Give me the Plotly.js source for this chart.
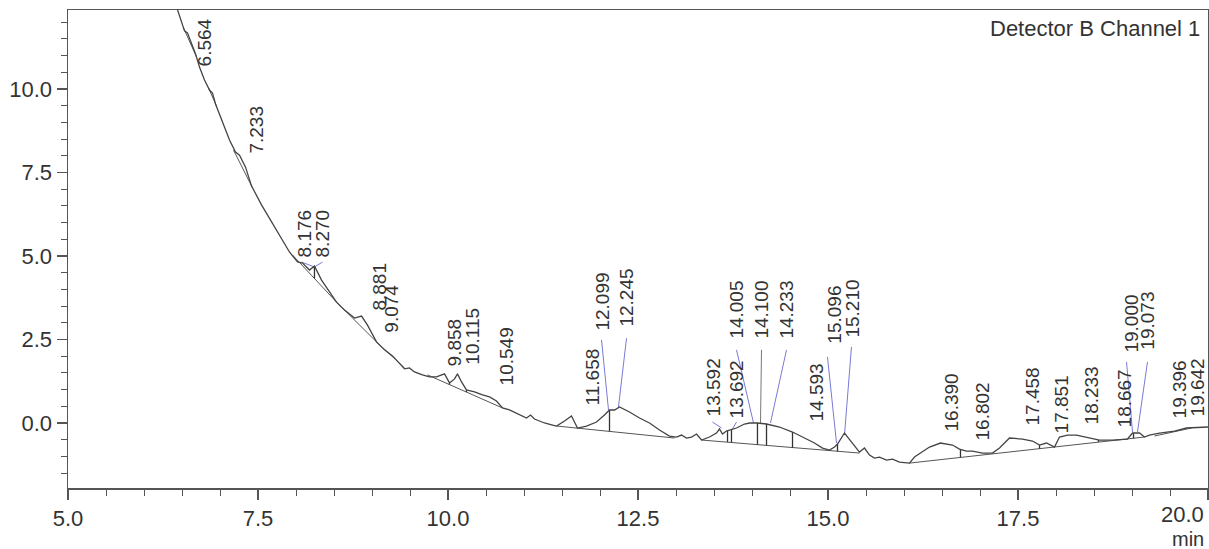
<!DOCTYPE html>
<html>
<head>
<meta charset="utf-8">
<script src="https://cdn.plot.ly/plotly-3.0.1.min.js"></script>
<style>html,body{margin:0;padding:0;background:#fff;}#chart{width:1209px;height:549px;}</style>
</head>
<body>
<div id="chart"></div>
<script>
// Chromatogram signal (time in min, signal)
const timeMin = [6.441,6.480,6.533,6.572,6.625,6.678,6.730,6.796,6.862,6.901,6.941,7.020,7.125,7.204,7.257,7.336,7.414,7.546,7.678,7.809,7.914,8.020,8.086,8.178,8.243,8.336,8.441,8.533,8.638,8.770,8.862,8.941,9.059,9.164,9.270,9.362,9.428,9.493,9.559,9.664,9.757,9.849,9.954,10.020,10.086,10.125,10.178,10.243,10.349,10.454,10.546,10.638,10.717,10.809,10.914,11.033,11.086,11.138,11.204,11.270,11.375,11.428,11.533,11.625,11.664,11.704,11.822,11.954,12.059,12.125,12.191,12.257,12.388,12.520,12.651,12.783,12.914,13.007,13.072,13.138,13.204,13.270,13.336,13.441,13.533,13.572,13.612,13.664,13.704,13.796,13.901,13.967,14.072,14.191,14.362,14.533,14.691,14.822,14.928,15.020,15.086,15.125,15.217,15.309,15.414,15.480,15.546,15.612,15.678,15.770,15.849,15.941,16.072,16.138,16.270,16.336,16.480,16.638,16.730,16.822,16.901,17.033,17.164,17.257,17.388,17.559,17.691,17.783,17.875,17.980,18.046,18.151,18.270,18.441,18.572,18.743,18.941,19.007,19.099,19.164,19.230,19.362,19.559,19.717,20.000];
const signal = [12.37,12.07,11.74,11.68,11.38,11.05,10.66,10.27,9.97,9.88,9.55,9.07,8.47,8.11,8.02,7.66,7.10,6.53,6.02,5.54,5.12,4.82,4.79,4.58,4.70,4.28,3.92,3.62,3.38,3.14,3.20,2.93,2.43,2.19,2.01,1.77,1.62,1.65,1.53,1.44,1.38,1.38,1.47,1.20,1.32,1.47,1.23,0.99,0.93,0.84,0.78,0.66,0.45,0.39,0.27,0.15,0.24,0.12,0.06,0.00,-0.06,-0.09,0.06,0.21,0.03,-0.15,-0.09,0.03,0.24,0.39,0.39,0.48,0.33,0.15,0.00,-0.21,-0.39,-0.42,-0.36,-0.45,-0.42,-0.33,-0.51,-0.42,-0.30,-0.18,-0.33,-0.24,-0.21,-0.15,-0.03,0.00,0.00,-0.03,-0.12,-0.27,-0.45,-0.60,-0.75,-0.81,-0.72,-0.63,-0.30,-0.57,-0.87,-0.75,-0.96,-1.05,-1.02,-1.11,-1.08,-1.17,-1.20,-1.02,-0.81,-0.72,-0.60,-0.66,-0.78,-0.84,-0.84,-0.90,-0.90,-0.75,-0.45,-0.48,-0.54,-0.66,-0.60,-0.72,-0.42,-0.36,-0.36,-0.45,-0.51,-0.51,-0.48,-0.30,-0.30,-0.42,-0.36,-0.30,-0.24,-0.15,-0.12];

// Integration baselines (null separates segments)
const baseTime = [6.520,6.691,null,6.849,6.954,null,7.178,7.428,null,7.954,8.533,9.059,9.428,null,9.730,10.717,null,11.428,12.980,null,13.336,15.414,null,16.072,19.164,null,19.296,19.783];
const baseSignal = [11.83,10.96,null,10.03,9.49,null,8.17,7.04,null,5.03,3.62,2.43,1.65,null,1.44,0.45,null,-0.09,-0.45,null,-0.51,-0.90,null,-1.20,-0.42,null,-0.39,-0.15];

// Peak separation drop lines
const dropTime = [8.243,10.020,10.243,12.125,13.678,13.730,14.072,14.191,14.533,15.125,16.743,17.783,18.559,19.020];
const dropTop = [4.70,1.20,0.99,0.39,-0.23,-0.21,0.00,-0.03,-0.27,-0.63,-0.79,-0.66,-0.51,-0.30];
const dropBottom = [4.33,1.15,0.93,-0.25,-0.57,-0.58,-0.65,-0.67,-0.74,-0.85,-1.03,-0.77,-0.57,-0.46];

// Peak labels
const peakNames = ["6.564","7.233","8.176","8.270","8.881","9.074","9.858","10.115","10.549","11.658","12.099","12.245","13.592","13.692","14.005","14.100","14.233","14.593","15.096","15.210","16.390","16.802","17.458","17.851","18.233","18.667","19.000","19.073","19.396","19.642"];
const labelX = [6.796,7.480,8.112,8.349,9.099,9.257,10.086,10.322,10.770,11.901,12.033,12.349,13.493,13.796,13.796,14.125,14.454,14.849,15.086,15.322,16.625,17.033,17.691,18.072,18.467,18.901,18.993,19.204,19.625,19.862];
const labelY = [11.38,8.80,5.66,5.66,4.07,3.41,2.40,2.60,1.98,1.38,3.62,3.74,1.08,0.99,3.38,3.38,3.38,0.90,3.23,3.44,0.60,0.33,0.78,0.57,0.84,0.75,2.99,3.05,0.99,1.05];

// Leader lines from labels to peaks
const leaderX0 = [8.072,8.349,12.020,12.349,13.480,13.796,13.796,14.454,14.993,15.309,18.928,19.204];
const leaderY0 = [4.82,4.82,2.49,2.54,0.03,0.03,2.19,2.19,1.98,2.28,1.83,1.83];
const leaderX1 = [8.243,8.243,12.112,12.243,13.599,13.743,14.020,14.243,15.112,15.217,19.007,19.072];
const leaderY1 = [4.67,4.67,0.39,0.48,-0.15,-0.18,0.00,0.00,-0.60,-0.36,-0.27,-0.27];
const grayLeaderX = [14.125,14.112];
const grayLeaderY = [2.19,0.00];

const xTicks = [5,7.5,10,12.5,15,17.5,20];
const xTickText = ["5.0","7.5","10.0","12.5","15.0","17.5",""];
const yTicks = [0,2.5,5,7.5,10];

const dropX = [], dropY = [];
dropTime.forEach((t,i)=>{dropX.push(t,t,null);dropY.push(dropTop[i],dropBottom[i],null);});
const ldX = [], ldY = [];
leaderX0.forEach((v,i)=>{ldX.push(v,leaderX1[i],null);ldY.push(leaderY0[i],leaderY1[i],null);});

const FONT = "'Liberation Sans', Arial, sans-serif";
const traces = [
  {x: baseTime, y: baseSignal, mode:'lines', line:{color:'#555', width:1}, connectgaps:false, hoverinfo:'skip'},
  {x: dropX, y: dropY, mode:'lines', line:{color:'#333', width:1.3}, connectgaps:false, hoverinfo:'skip'},
  {x: ldX, y: ldY, mode:'lines', line:{color:'#7a7ad6', width:1}, connectgaps:false, hoverinfo:'skip'},
  {x: grayLeaderX, y: grayLeaderY, mode:'lines', line:{color:'#777', width:1}, hoverinfo:'skip'},
  {x: timeMin, y: signal, mode:'lines', line:{color:'#444', width:1.3}, name:'Detector B Channel 1'}
];

const annotations = peakNames.map((n,i)=>({
  x: labelX[i], y: labelY[i], xref:'x', yref:'y', text:n, showarrow:false,
  textangle:-90, xanchor:'center', yanchor:'middle',
  font:{family:FONT, size:19, color:'#333'}
}));
annotations.push({xref:'paper', yref:'paper', x:1, y:1, xanchor:'right', yanchor:'top', xshift:-6, yshift:-4,
  text:'Detector B Channel 1', showarrow:false, font:{family:FONT, size:22, color:'#333'}});
annotations.push({xref:'paper', yref:'paper', x:1, y:0, xanchor:'right', yanchor:'top', xshift:-2, yshift:-12,
  text:'20.0', showarrow:false, font:{family:FONT, size:22, color:'#333'}});
annotations.push({xref:'paper', yref:'paper', x:1, y:0, xanchor:'right', yanchor:'top', xshift:-2, yshift:-38,
  text:'min', showarrow:false, font:{family:FONT, size:20, color:'#333'}});

const layout = {
  width:1209, height:549,
  margin:{l:68, r:1, t:10, b:61},
  paper_bgcolor:'#fff', plot_bgcolor:'#fff',
  showlegend:false,
  font:{family:FONT, color:'#333'},
  xaxis:{
    range:[5,20], tickmode:'array', tickvals:xTicks, ticktext:xTickText,
    ticks:'outside', ticklen:10, tickwidth:1.3, tickcolor:'#555',
    showline:true, linecolor:'#555', linewidth:1.5, mirror:true,
    showgrid:false, zeroline:false,
    tickfont:{family:FONT, size:22, color:'#333'},
    minor:{tickmode:'linear', tick0:0, dtick:0.5, ticks:'outside', ticklen:6, tickcolor:'#555', tickwidth:1, showgrid:false}
  },
  yaxis:{
    range:[-1.946,12.365], tickmode:'array', tickvals:yTicks, tickformat:'.1f',
    ticks:'outside', ticklen:10, tickwidth:1.3, tickcolor:'#555',
    showline:true, linecolor:'#555', linewidth:1.5, mirror:true,
    showgrid:false, zeroline:false,
    tickfont:{family:FONT, size:22, color:'#333'},
    minor:{tickmode:'linear', tick0:0, dtick:0.5, ticks:'outside', ticklen:6, tickcolor:'#555', tickwidth:1, showgrid:false}
  },
  annotations: annotations
};

Plotly.newPlot('chart', traces, layout, {displayModeBar:false, staticPlot:true});
</script>
</body>
</html>
